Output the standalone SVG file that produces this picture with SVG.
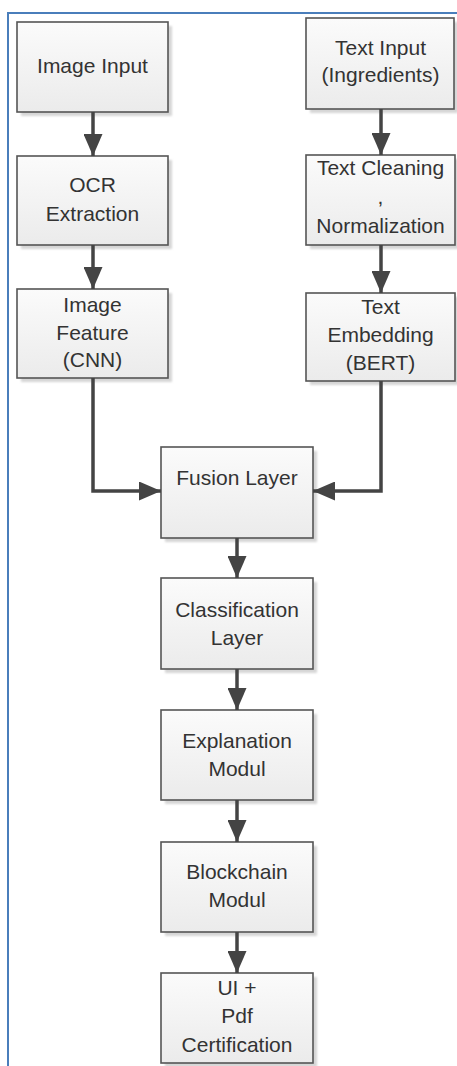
<svg xmlns="http://www.w3.org/2000/svg" width="457" height="1066" viewBox="0 0 457 1066">
<style>
.box{fill:url(#g);stroke:#555;stroke-width:1.6}
.sh{fill:#d6d6d6;filter:url(#blur)}
.t{font-family:"Liberation Sans",Arial,sans-serif;font-size:21px;fill:#333;text-anchor:middle}
.e{fill:none;stroke:#444;stroke-width:3.5;marker-end:url(#ah)}
.frame{fill:none;stroke:#4a7ebb;stroke-width:2}
</style>
<defs>
<linearGradient id="g" x1="0" y1="0" x2="0" y2="1">
<stop offset="0" stop-color="#fbfbfb"/>
<stop offset="1" stop-color="#ebebeb"/>
</linearGradient>
<filter id="blur" x="-10%" y="-10%" width="120%" height="120%"><feGaussianBlur stdDeviation="1.2"/></filter>
<marker id="ah" viewBox="0 0 22 19" refX="22" refY="9.5" markerWidth="22" markerHeight="19" orient="auto" markerUnits="userSpaceOnUse">
<path d="M0,0 L22,9.5 L0,19 z" fill="#444"/>
</marker>
</defs>
<rect width="457" height="1066" fill="#fff"/>
<path class="frame" d="M8,1066 V13 H457"/>

<g id="image-input">
<rect class="sh" x="21" y="26" width="151" height="90"/>
<rect class="box" x="17" y="22" width="151" height="90"/>
<text class="t" x="92.5" y="73">Image Input</text>
</g>
<g id="ocr">
<rect class="sh" x="21" y="160" width="151" height="89"/>
<rect class="box" x="17" y="156" width="151" height="89"/>
<text class="t" x="92.5" y="192">OCR</text>
<text class="t" x="92.5" y="221">Extraction</text>
</g>
<g id="image-feature">
<rect class="sh" x="21" y="293" width="151" height="89"/>
<rect class="box" x="17" y="289" width="151" height="89"/>
<text class="t" x="92.5" y="312">Image</text>
<text class="t" x="92.5" y="340">Feature</text>
<text class="t" x="92.5" y="367">(CNN)</text>
</g>
<g id="text-input">
<rect class="sh" x="310" y="22" width="148" height="91"/>
<rect class="box" x="306" y="18" width="148" height="91"/>
<text class="t" x="380.5" y="55">Text Input</text>
<text class="t" x="380.5" y="82">(Ingredients)</text>
</g>
<g id="text-cleaning">
<rect class="sh" x="310" y="159" width="149" height="90"/>
<rect class="box" x="306" y="155" width="149" height="90"/>
<text class="t" x="380.5" y="175">Text Cleaning</text>
<text class="t" x="380.5" y="204">,</text>
<text class="t" x="380.5" y="233">Normalization</text>
</g>
<g id="text-embedding">
<rect class="sh" x="310" y="297" width="149" height="88"/>
<rect class="box" x="306" y="293" width="149" height="88"/>
<text class="t" x="380.5" y="314">Text</text>
<text class="t" x="380.5" y="342">Embedding</text>
<text class="t" x="380.5" y="370">(BERT)</text>
</g>
<g id="fusion-layer">
<rect class="sh" x="165" y="451" width="152" height="91"/>
<rect class="box" x="161" y="447" width="152" height="91"/>
<text class="t" x="237" y="485">Fusion Layer</text>
</g>
<g id="classification-layer">
<rect class="sh" x="165" y="582" width="152" height="91"/>
<rect class="box" x="161" y="578" width="152" height="91"/>
<text class="t" x="237" y="617">Classification</text>
<text class="t" x="237" y="645">Layer</text>
</g>
<g id="explanation-modul">
<rect class="sh" x="165" y="714" width="152" height="90"/>
<rect class="box" x="161" y="710" width="152" height="90"/>
<text class="t" x="237" y="748">Explanation</text>
<text class="t" x="237" y="776">Modul</text>
</g>
<g id="blockchain-modul">
<rect class="sh" x="165" y="846" width="152" height="90"/>
<rect class="box" x="161" y="842" width="152" height="90"/>
<text class="t" x="237" y="879">Blockchain</text>
<text class="t" x="237" y="907">Modul</text>
</g>
<g id="ui-pdf-certification">
<rect class="sh" x="165" y="977" width="152" height="90"/>
<rect class="box" x="161" y="973" width="152" height="90"/>
<text class="t" x="237" y="995">UI +</text>
<text class="t" x="237" y="1023">Pdf</text>
<text class="t" x="237" y="1052">Certification</text>
</g>

<g id="connectors">
<path class="e" d="M93,112 V156"/>
<path class="e" d="M93,245 V289"/>
<path class="e" d="M381,109 V155"/>
<path class="e" d="M381,245 V293"/>
<path class="e" d="M93,378 V491 H161"/>
<path class="e" d="M381,381 V491 H313"/>
<path class="e" d="M237,538 V578"/>
<path class="e" d="M237,669 V710"/>
<path class="e" d="M237,800 V842"/>
<path class="e" d="M237,932 V973"/>
</g>
</svg>
